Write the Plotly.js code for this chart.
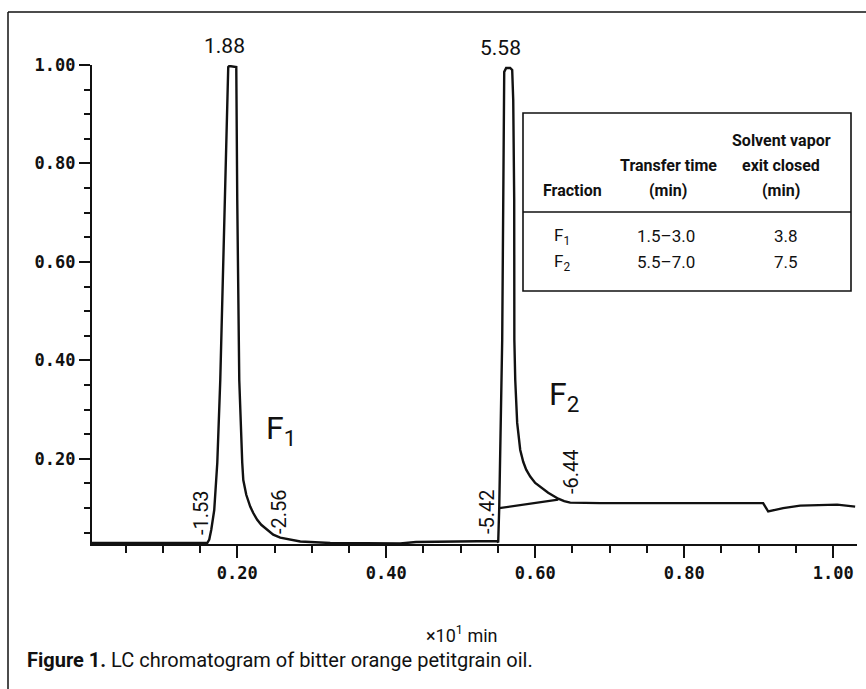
<!DOCTYPE html>
<html><head><meta charset="utf-8">
<script src="https://cdn.plot.ly/plotly-3.0.1.min.js"></script>
<style>html,body{margin:0;padding:0;background:#fff}</style>
</head><body><div id="chart" style="width:866px;height:689px"></div>
<script>
// ---- data (time in x10 min, detector response) ----
const timeMain = [0.005, 0.100, 0.150, 0.1597, 0.1624, 0.1651, 0.1691, 0.1732, 0.1772, 0.1839, 0.1879, 0.1893, 0.1987,
  0.2000, 0.2027, 0.2067, 0.2081, 0.2121, 0.2174, 0.2215, 0.2268, 0.2322, 0.2403, 0.2483, 0.2577, 0.2846, 0.3248, 0.4188, 0.4400, 0.5000, 0.5490,
  0.5503, 0.5517, 0.5557, 0.5570, 0.5584, 0.5610, 0.5664, 0.5691, 0.5705, 0.5718, 0.5720, 0.5732, 0.5758, 0.5799, 0.5839, 0.5879, 0.5933,
  0.6000, 0.6081, 0.6174, 0.6242, 0.6309, 0.6389, 0.6470, 0.6872, 0.8215, 0.9060, 0.9128, 0.9329, 0.9557, 1.0054, 1.0295];
const signalMain = [0.029, 0.029, 0.029, 0.029, 0.036, 0.056, 0.096, 0.192, 0.360, 0.726, 0.996, 0.998, 0.996,
  0.726, 0.360, 0.192, 0.157, 0.127, 0.103, 0.090, 0.076, 0.066, 0.056, 0.046, 0.040, 0.032, 0.029, 0.028, 0.031, 0.032, 0.033,
  0.030, 0.100, 0.442, 0.726, 0.986, 0.994, 0.994, 0.990, 0.929, 0.726, 0.442, 0.360, 0.273, 0.218, 0.194, 0.178, 0.164,
  0.151, 0.141, 0.131, 0.125, 0.119, 0.114, 0.111, 0.110, 0.110, 0.110, 0.093, 0.100, 0.105, 0.107, 0.103];
const timeDrop = [0.5517, 0.6309];
const signalDrop = [0.100, 0.117];

const xTickVals = [0.2, 0.4, 0.6, 0.8, 1.0];
const xTickText = ['0.20', '0.40', '0.60', '0.80', '1.00'];
const yTickVals = [0.2, 0.4, 0.6, 0.8, 1.0];
const yTickText = ['0.20', '0.40', '0.60', '0.80', '1.00'];

const peakLabels = ['1.88', '5.58'];
const markLabels = ['-1.53', '-2.56', '-5.42', '-6.44'];
const fractionLabels = ['F<sub>1</sub>', 'F<sub>2</sub>'];

const tableHeadFraction = ['Fraction'];
const tableHeadTransfer = ['Transfer time', '(min)'];
const tableHeadExit = ['Solvent vapor', 'exit closed', '(min)'];
const tableFraction = ['F<sub>1</sub>', 'F<sub>2</sub>'];
const tableTransfer = ['1.5–3.0', '5.5–7.0'];
const tableExit = ['3.8', '7.5'];

const xTitle = '×10<sup>1</sup> min';
const caption = '<b>Figure 1.</b> LC chromatogram of bitter orange petitgrain oil.';

// ---- layout helpers (pixel -> paper) ----
const L = 92, R = 857, T = 65, B = 544;
const px = x => (x - L) / (R - L);
const py = y => (B - y) / (B - T);
const SANS = "Roboto, 'Liberation Sans', sans-serif";
const MONO = "'DejaVu Sans Mono', 'Liberation Mono', monospace";

function ann(text, x, y, size, opts) {
  return Object.assign({
    text: text, xref: 'paper', yref: 'paper', x: px(x), y: py(y),
    xanchor: 'center', yanchor: 'middle', showarrow: false,
    font: {family: SANS, size: size, color: '#111'}
  }, opts || {});
}

const annotations = [];
annotations.push(ann(peakLabels[0], 224, 46, 21));
annotations.push(ann(peakLabels[1], 500, 48, 21));
const markPos = [[201, 513], [279, 512], [487, 512], [571, 472]];
markLabels.forEach((t, i) => annotations.push(ann(t, markPos[i][0], markPos[i][1], 20, {textangle: -90})));
annotations.push(ann(fractionLabels[0], 281, 430, 32));
annotations.push(ann(fractionLabels[1], 564, 396, 32));

// table text
const colX = [572, 668, 781];
const headY = [140, 165, 190];
tableHeadFraction.forEach((t, i) => annotations.push(ann('<b>' + t + '</b>', colX[0], headY[2], 16)));
tableHeadTransfer.forEach((t, i) => annotations.push(ann('<b>' + t + '</b>', colX[1], headY[i + 1], 16)));
tableHeadExit.forEach((t, i) => annotations.push(ann('<b>' + t + '</b>', colX[2], headY[i], 16)));
const rowY = [236, 262];
tableFraction.forEach((t, i) => annotations.push(ann(t, 552, rowY[i], 17, {xanchor: 'left'})));
tableTransfer.forEach((t, i) => annotations.push(ann(t, colX[1] - 2, rowY[i], 17)));
tableExit.forEach((t, i) => annotations.push(ann(t, colX[2] + 5, rowY[i], 17)));

annotations.push(ann(xTitle, 462, 634, 18));
annotations.push(ann(caption, 25, 660, 20, {xanchor: 'left'}));

const shapes = [
  {type: 'line', xref: 'paper', yref: 'paper', x0: px(8), x1: px(866), y0: py(12), y1: py(12), line: {color: '#111', width: 1.5}},
  {type: 'line', xref: 'paper', yref: 'paper', x0: px(8), x1: px(8), y0: py(12), y1: py(689), line: {color: '#111', width: 1.5}},
  {type: 'rect', xref: 'paper', yref: 'paper', x0: px(523), x1: px(851), y0: py(113), y1: py(291), line: {color: '#111', width: 1.6}, fillcolor: 'rgba(0,0,0,0)'},
  {type: 'line', xref: 'paper', yref: 'paper', x0: px(523), x1: px(851), y0: py(212), y1: py(212), line: {color: '#111', width: 1.3}}
];

const traces = [
  {x: timeMain, y: signalMain, type: 'scatter', mode: 'lines', line: {color: '#111', width: 2.4}, hoverinfo: 'skip'},
  {x: timeDrop, y: signalDrop, type: 'scatter', mode: 'lines', line: {color: '#111', width: 2.2}, hoverinfo: 'skip'}
];

const layout = {
  width: 866, height: 689,
  margin: {l: L, r: 866 - R, t: T, b: 689 - B, pad: 0},
  paper_bgcolor: '#fff', plot_bgcolor: '#fff',
  showlegend: false,
  xaxis: {
    range: [0.005, 1.032], showgrid: false, zeroline: false,
    showline: true, linecolor: '#111', linewidth: 2.2,
    ticks: 'outside', ticklen: 12, tickwidth: 2, tickcolor: '#111',
    tickmode: 'array', tickvals: xTickVals, ticktext: xTickText,
    tickfont: {family: MONO, size: 17, color: '#111', weight: 'bold'},
    minor: {dtick: 0.05, tick0: 0, ticks: 'outside', ticklen: 7, tickwidth: 2, tickcolor: '#111', showgrid: false}
  },
  yaxis: {
    range: [0.027, 1.0], showgrid: false, zeroline: false,
    showline: true, linecolor: '#111', linewidth: 2.2,
    ticks: 'outside', ticklen: 11, tickwidth: 2, tickcolor: '#111',
    tickmode: 'array', tickvals: yTickVals, ticktext: yTickText,
    tickfont: {family: MONO, size: 17, color: '#111', weight: 'bold'},
    minor: {dtick: 0.05, tick0: 0, ticks: 'outside', ticklen: 6, tickwidth: 2, tickcolor: '#111', showgrid: false}
  },
  annotations: annotations,
  shapes: shapes
};

Plotly.newPlot('chart', traces, layout, {displayModeBar: false, staticPlot: true});
</script>
</body></html>
